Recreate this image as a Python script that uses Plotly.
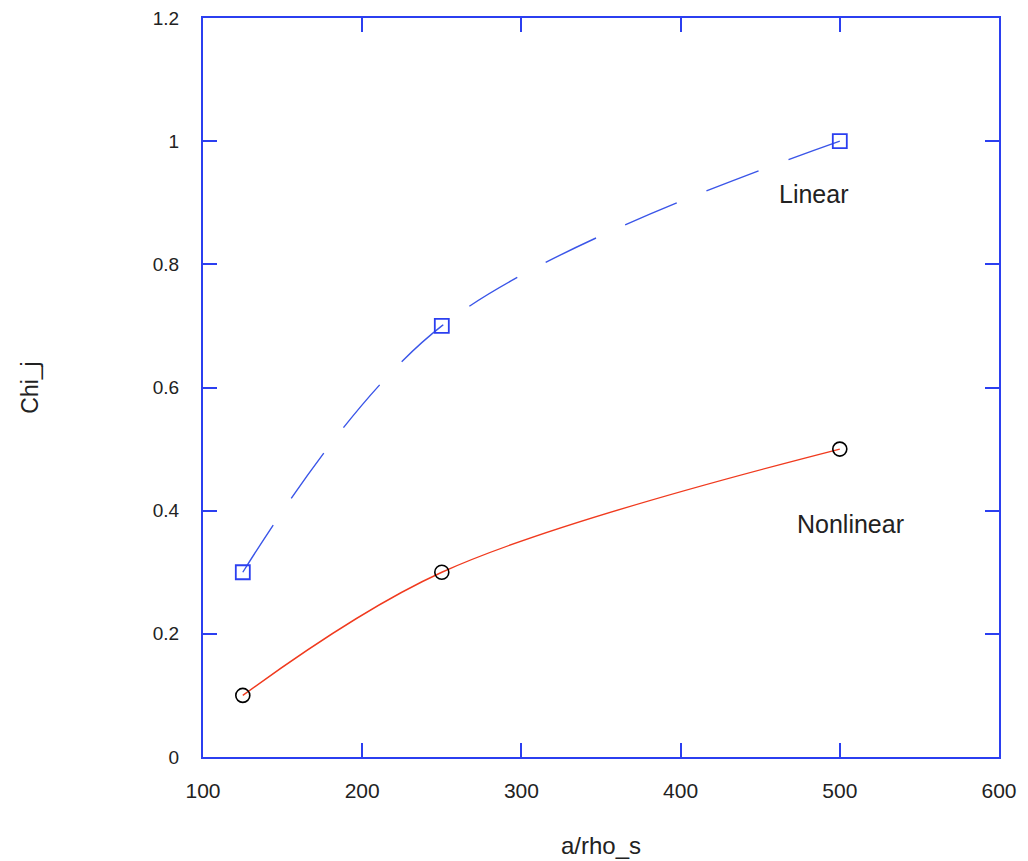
import plotly.graph_objects as go

# данные с картинки
a_rho = [125, 250, 500]
chi_linear = [0.3, 0.7, 1.0]
chi_nonlinear = [0.1, 0.3, 0.5]

x_ticks = [100, 200, 300, 400, 500, 600]
y_ticks = [0, 0.2, 0.4, 0.6, 0.8, 1, 1.2]
y_labels = ["0", "0.2", "0.4", "0.6", "0.8", "1", "1.2"]

frame_col = "#2b3ff0"
text_col = "#222"
fnt = "Liberation Sans"

fig = go.Figure()
fig.add_trace(go.Scatter(
    x=a_rho, y=chi_linear, mode="lines+markers", name="Linear",
    line=dict(color="#3a55e8", width=1.4, dash="56px,32px", shape="spline", smoothing=1),
    marker=dict(symbol="square-open", size=14, color="#2b3ff0", line=dict(width=1.8)),
))
fig.add_trace(go.Scatter(
    x=a_rho, y=chi_nonlinear, mode="lines", name="Nonlinear",
    line=dict(color="#f03a1e", width=1.4, shape="spline", smoothing=1),
))
fig.add_trace(go.Scatter(
    x=a_rho, y=chi_nonlinear, mode="markers", showlegend=False,
    marker=dict(symbol="circle-open", size=14, color="black", line=dict(width=1.6)),
))

# подписи кривых
fig.add_annotation(x=484, y=0.915, text="Linear", showarrow=False,
                   font=dict(size=25, color=text_col, family=fnt))
fig.add_annotation(x=507, y=0.378, text="Nonlinear", showarrow=False,
                   font=dict(size=25, color=text_col, family=fnt))

axis_common = dict(
    showline=True, linecolor=frame_col, linewidth=2, mirror="ticks",
    ticks="inside", ticklen=14, tickwidth=2, tickcolor=frame_col,
    showgrid=False, zeroline=False, automargin=False, ticklabeloverflow="allow",
)

# в браузере у body отступ 8px, поэтому поля чуть сдвинуты
fig.update_layout(
    width=1028, height=861,
    margin=dict(l=195, r=37, t=10, b=112),
    paper_bgcolor="white", plot_bgcolor="white",
    showlegend=False,
    font=dict(family=fnt),
    xaxis=dict(range=[100, 600], tickvals=x_ticks, ticklabelstandoff=14,
               tickfont=dict(size=21, color=text_col, family=fnt),
               title=dict(text="a/rho_s", font=dict(size=24, color=text_col), standoff=36),
               **axis_common),
    yaxis=dict(range=[0, 1.2], tickvals=y_ticks, ticktext=y_labels, ticklabelstandoff=18,
               tickfont=dict(size=19, color=text_col, family=fnt),
               title=dict(text="Chi_j", font=dict(size=23, color=text_col), standoff=108),
               **axis_common),
)

fig.write_html("out.html")
